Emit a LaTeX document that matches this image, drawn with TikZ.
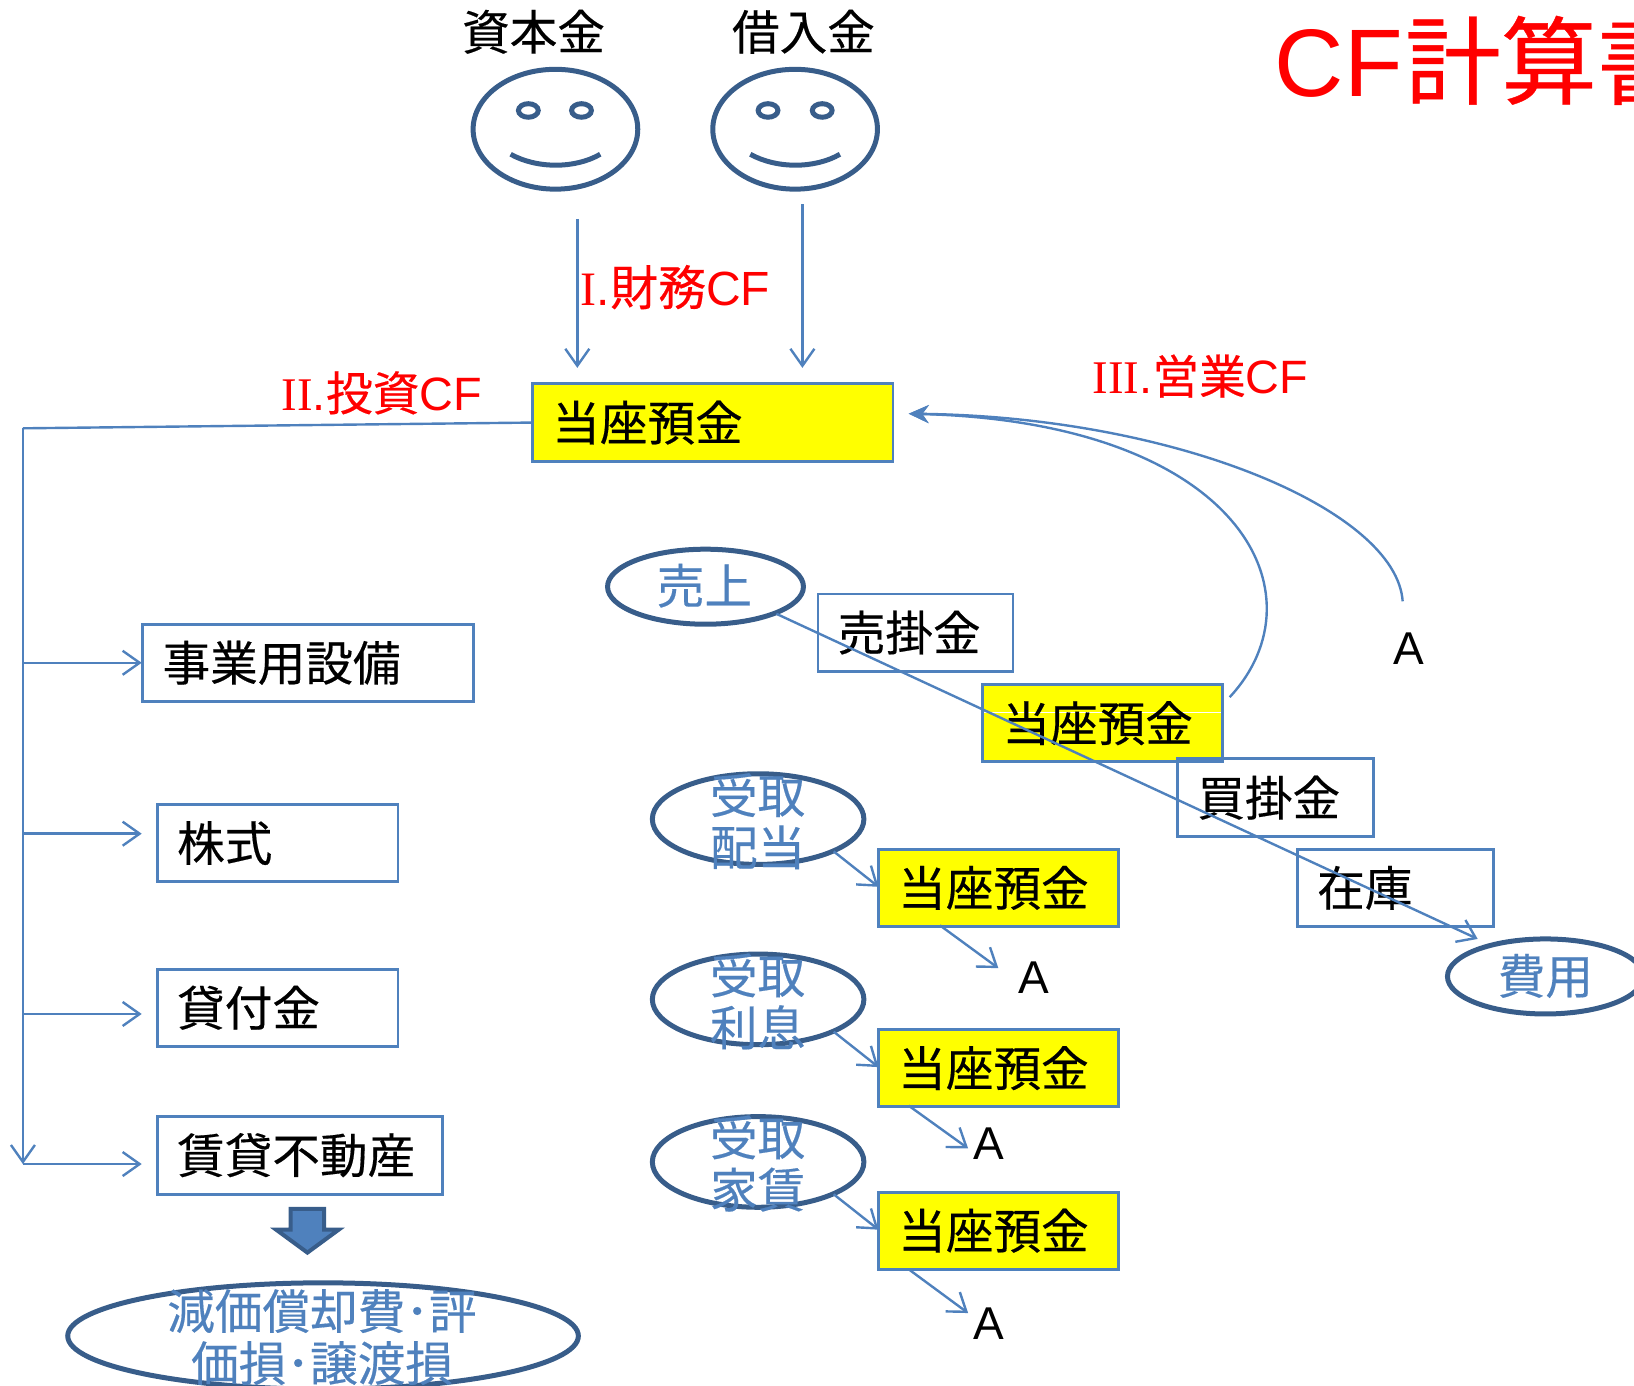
\documentclass[tikz,border=0pt]{standalone}
\usepackage{fontspec}
\setmainfont{Liberation Sans}
\newfontfamily\cjk[FakeBold=0.35]{Noto Sans CJK JP}
\newfontfamily\serifI{Liberation Serif}
\usetikzlibrary{arrows.meta,shapes.geometric,calc}
\def\pxu{0.521pt}
\definecolor{lineblue}{HTML}{4F81BD}
\definecolor{darkblue}{HTML}{385D8A}
\definecolor{purey}{RGB}{255,255,0}
\tikzset{
  conn/.style={draw=lineblue,line width=1.2pt,-{Straight Barb[length=8.5pt,width=12pt,line width=1.2pt]}},
  plainline/.style={draw=lineblue,line width=1.2pt},
  solidarrow/.style={draw=lineblue,line width=1.2pt,-{Stealth[length=10pt,width=9pt]}},
  bx/.style n args={2}{draw=lineblue,line width=1.4pt,inner xsep=0pt,inner ysep=0pt,
     minimum height=#2*\pxu,text width=(#1-38)*\pxu,align=left,anchor=center,
     inner xsep=19*\pxu,font=\cjk\fontsize{23.8}{26}\selectfont,text=black},
  ybx/.style n args={2}{bx={#1}{#2},fill=purey},
  ell/.style={draw=darkblue,line width=2.5pt,ellipse,inner sep=0pt},
  etext/.style={text=lineblue,align=center,inner sep=0pt,font=\cjk\fontsize{23.8}{26}\selectfont},
  blk/.style={text=black,inner sep=0pt,font=\cjk\fontsize{23.8}{26}\selectfont},
  lettera/.style={text=black,inner sep=0pt,font=\fontsize{23}{26}\selectfont},
  redlab/.style={text=red,inner sep=0pt,anchor=base west,font=\fontsize{23.4}{26}\selectfont},
  face/.style={draw=darkblue,line width=2.5pt,ellipse,minimum width=158*\pxu,minimum height=115*\pxu,inner sep=0pt},
  eye/.style={draw=darkblue,line width=2.5pt,ellipse,minimum width=19*\pxu,minimum height=13*\pxu,inner sep=0pt},
  smile/.style={draw=darkblue,line width=2.5pt},
}
\begin{document}
\begin{tikzpicture}[x=0.521pt,y=-0.521pt]
\useasboundingbox (0,0) rectangle (1568,1330);
\begin{scope}
\clip (0,0) rectangle (1568,1330);

% title
\node[redlab,font=\fontsize{48}{50}\selectfont] (title) at (1223,93) {CF\kern1pt{\cjk\fontsize{48}{50}\selectfont 計算書}};

% faces
\node[face] (f1) at (533,124) {};
\node[eye] (f1a) at (507,106) {};
\node[eye] (f1b) at (558,106) {};
\draw[smile] (490,148) .. controls (515,162) and (552,162) .. (576,148);
\node[face] (f2) at (763,124) {};
\node[eye] (f2a) at (737,106) {};
\node[eye] (f2b) at (789,106) {};
\draw[smile] (720,148) .. controls (745,162) and (782,162) .. (806,148);
\node[blk] (shihon) at (512,30.5) {資本金};
\node[blk] (kari) at (771,30.5) {借入金};

% red labels
\node[redlab,font=\fontsize{24}{26}\selectfont] (zaimu) at (557,293) {{\serifI I}.{\cjk 財務}CF};
\node[redlab] (toshi) at (270,394) {{\serifI II}.{\cjk 投資}CF};
\node[redlab] (eigyo) at (1048,378) {{\serifI III}.{\cjk 営業}CF};

% boxes
\node[ybx={346}{75}] (top) at (684,405.5) {当座預金};
\node[bx={317}{74}] (b1) at (295.5,636) {事業用設備};
\node[bx={231}{74}] (b2) at (266.5,809) {株式};
\node[bx={231}{74}] (b3) at (266.5,967) {貸付金};
\node[bx={274}{75}] (b4) at (288,1108.5) {賃貸不動産};
\node[bx={187}{74}] (urikake) at (878.5,607) {売掛金};
\node[ybx={230}{74},path picture={\draw[white,line width=0.4pt] ($(path picture bounding box.west)+(0,-10)$) -- ($(path picture bounding box.east)+(0,-10)$);}] (mid) at (1058,694) {当座預金};
\node[bx={188}{75}] (kaikake) at (1224,765.5) {買掛金};
\node[bx={188}{74}] (zaiko) at (1339,852) {在庫};
\node[ybx={230}{74}] (y1) at (958,852) {当座預金};
\node[ybx={230}{74}] (y2) at (958,1025) {当座預金};
\node[ybx={230}{74}] (y3) at (958,1181) {当座預金};

% ellipses
\node[ell,minimum width=188*\pxu,minimum height=72*\pxu] (uri) at (677,563) {};
\node[etext] (urit) at (676,562) {売上};
\node[ell,minimum width=203*\pxu,minimum height=87*\pxu] (e1) at (727.5,786) {};
\node[etext] (e1t) at (727,788) {受取\\配当};
\node[ell,minimum width=203*\pxu,minimum height=87*\pxu] (e2) at (727.5,959) {};
\node[etext] (e2t) at (727,961) {受取\\利息};
\node[ell,minimum width=203*\pxu,minimum height=87*\pxu] (e3) at (727.5,1115) {};
\node[etext] (e3t) at (727,1116.5) {受取\\家賃};
\node[ell,minimum width=188*\pxu,minimum height=72*\pxu] (hiyo) at (1483,937) {};
\node[etext] (hiyot) at (1483,936.5) {費用};
\node[ell,minimum width=490*\pxu,minimum height=102*\pxu] (gen) at (310,1282) {};
\node[etext] (gent) at (309,1283) {減価償却費･評\\価損･譲渡損};

% block arrow
\draw[fill=lineblue,draw=darkblue,line width=2pt,line join=miter]
  (279,1160) -- (311,1160) -- (311,1180) -- (325,1180) -- (295,1202) -- (265,1180) -- (279,1180) -- cycle;

% letters A
\node[lettera] (a0) at (1352,622) {A};
\node[lettera] (a1) at (992,938) {A};
\node[lettera] (a2) at (949,1097) {A};
\node[lettera] (a3) at (949,1270) {A};

% named free ends
\coordinate (s1) at (554,210);
\coordinate (t1) at (554,353);
\coordinate (s2) at (770,196);
\coordinate (t2) at (770,353);
\coordinate (trunk) at (22,411);
\coordinate (trunkend) at (22,1117);
\coordinate (h1) at (22,636);
\coordinate (h2) at (22,800);
\coordinate (h3) at (22,973);
\coordinate (h4) at (22,1117);
\coordinate (h1e) at (136,636);
\coordinate (h2e) at (136,800);
\coordinate (h3e) at (136,973);
\coordinate (h4e) at (136,1117);
\coordinate (c1s) at (1180,669);
\coordinate (c2s) at (1346,577);
\coordinate (ce) at (872,397);
\coordinate (us) at (745,589);
\coordinate (ue) at (1418,901);
\coordinate (e1s) at (800,817);
\coordinate (e1e) at (843,851);
\coordinate (e2s) at (800,990);
\coordinate (e2e) at (843,1024);
\coordinate (e3s) at (800,1146);
\coordinate (e3e) at (843,1180);
\coordinate (y1s) at (902,888);
\coordinate (y1e) at (958,929);
\coordinate (y2s) at (872,1061);
\coordinate (y2e) at (929,1102);
\coordinate (y3s) at (872,1218);
\coordinate (y3e) at (929,1260);

% connectors
\draw[conn] (s1) -- (t1);
\draw[conn] (s2) -- (t2);
\draw[plainline] (top.west) -- (trunk);
\draw[conn] (trunk) -- (trunkend);
\draw[conn] (h1) -- (h1e);
\draw[conn] (h2) -- (h2e);
\draw[conn] (h3) -- (h3e);
\draw[conn] (h4) -- (h4e);
\draw[solidarrow] (c1s) .. controls (1272,570) and (1190,405) .. (ce);
\draw[solidarrow] (c2s) .. controls (1340,490) and (1130,400) .. (ce);
\draw[conn] (us) -- (ue);
\draw[conn] (e1s) -- (e1e);
\draw[conn] (e2s) -- (e2e);
\draw[conn] (e3s) -- (e3e);
\draw[conn] (y1s) -- (y1e);
\draw[conn] (y2s) -- (y2e);
\draw[conn] (y3s) -- (y3e);
\end{scope}
\end{tikzpicture}
\end{document}
